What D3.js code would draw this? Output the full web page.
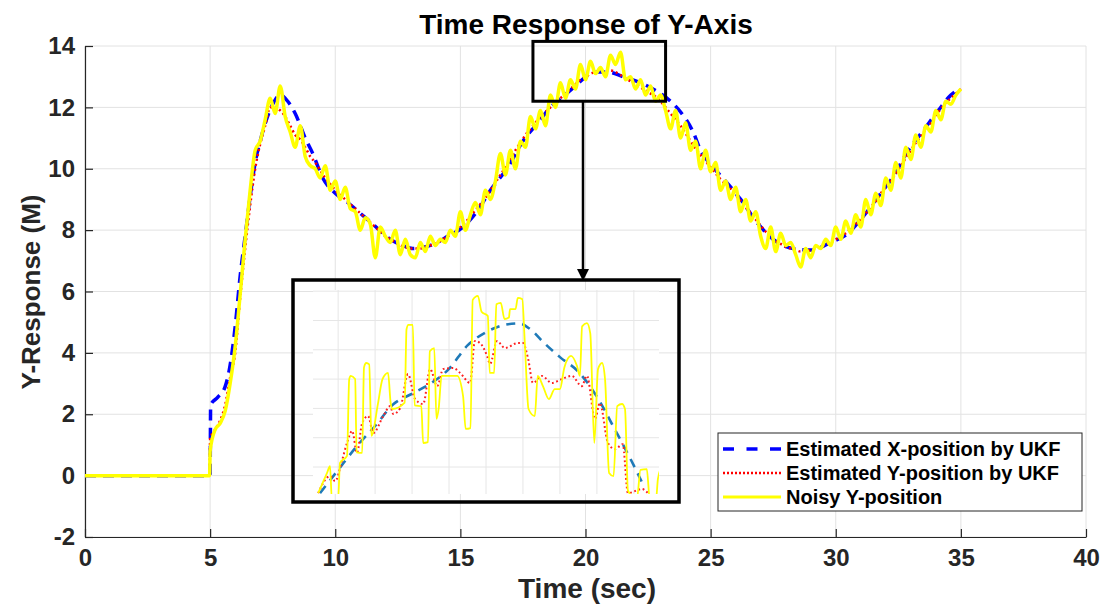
<!DOCTYPE html>
<html>
<head>
<meta charset="utf-8">
<script src="https://cdn.jsdelivr.net/npm/d3@7"></script>
<style>
    body { margin: 0; background: #fff; }
    svg { font-family: "Liberation Sans", Arial, sans-serif; font-weight: bold; }
</style>
</head>
<body>
<svg id="chart"></svg>
<script>
// Time Response of Y-Axis (UKF estimates vs noisy measurement)

const xTicks = [0, 5, 10, 15, 20, 25, 30, 35, 40];
const yTicks = [-2, 0, 2, 4, 6, 8, 10, 12, 14];
const seriesNames = ["Estimated X-position by UKF", "Estimated Y-position by UKF", "Noisy Y-position"];

// flat part before the manoeuvre starts
const flatT = [0, 4.98];
const flatY = [0, 0];

// smooth estimate (blue dashed)
const blueT = [0, 5.0, 5.02, 5.3, 5.6, 5.8, 6.0, 6.2, 6.4, 6.6, 6.8, 7.0, 7.25, 7.5, 7.8, 8.1, 8.4, 8.8, 9.1, 9.5,
    10.0, 10.5, 11.0, 11.5, 12.2, 12.7, 13.1, 13.8, 14.5, 15.1, 15.7, 16.2, 16.9, 17.5, 18.1, 18.6, 19.1, 19.6, 20.1, 20.5,
    20.9, 21.5, 22.2, 22.9, 23.4, 23.8, 24.3, 24.6, 25.1, 25.7, 26.2, 26.9, 27.5, 28.3, 29.0, 29.8, 30.5, 31.0, 31.8, 32.3,
    32.9, 33.5, 34.1, 34.6, 34.75];
const blueY = [0, 0, 2.3, 2.55, 2.9, 3.6, 4.85, 6.5, 7.8, 9.1, 10.2, 10.9, 11.6, 12.1, 12.4, 12.2, 11.8, 11.0, 10.5, 9.7,
    9.2, 8.9, 8.55, 8.2, 7.7, 7.5, 7.4, 7.5, 7.8, 8.1, 8.65, 9.3, 10.05, 10.9, 11.5, 12.0, 12.35, 12.7, 13.05, 13.15,
    13.15, 13.0, 12.8, 12.5, 12.2, 11.85, 11.2, 10.6, 10.05, 9.5, 9.0, 8.2, 7.7, 7.4, 7.35, 7.6, 7.9, 8.35, 9.2, 9.75,
    10.6, 11.25, 11.9, 12.4, 12.5];

// sampled series from t = 5 s every 0.2 s
const sampleStart = 5;
const sampleStep = 0.2;
const redY = [
    1.2, 1.5, 1.8, 2.3, 3.2, 4.0, 5.8, 7.4, 8.8, 10.0,
    10.8, 11.4, 12.0, 12.0, 11.9, 11.7, 11.4, 11.1, 10.95, 10.7,
    10.4, 10.2, 9.95, 9.7, 9.5, 9.3, 9.15, 9.0, 8.85, 8.7,
    8.55, 8.4, 8.25, 8.1, 7.95, 7.8, 7.7, 7.6, 7.5, 7.45,
    7.4, 7.4, 7.4, 7.45, 7.5, 7.55, 7.65, 7.75, 7.85, 7.95,
    8.1, 8.25, 8.45, 8.65, 8.85, 9.05, 9.3, 9.55, 9.8, 10.05,
    10.3, 10.6, 10.85, 11.1, 11.3, 11.5, 11.7, 11.85, 12.0, 12.15,
    12.3, 12.45, 12.6, 12.75, 12.9, 13.0, 13.1, 13.15, 13.2, 13.2,
    13.2, 13.15, 13.05, 12.95, 12.85, 12.75, 12.65, 12.55, 12.45, 12.35,
    12.2, 12.0, 11.8, 11.6, 11.4, 11.15, 10.9, 10.65, 10.45, 10.25,
    10.05, 9.85, 9.65, 9.5, 9.35, 9.15, 8.95, 8.75, 8.55, 8.35,
    8.15, 7.95, 7.8, 7.65, 7.55, 7.45, 7.4, 7.35, 7.3, 7.3,
    7.35, 7.4, 7.45, 7.55, 7.6, 7.7, 7.8, 7.9, 8.05, 8.2,
    8.35, 8.55, 8.75, 8.95, 9.2, 9.4, 9.6, 9.85, 10.1, 10.35,
    10.6, 10.85, 11.05, 11.3, 11.5, 11.75, 11.95, 12.15, 12.3, 12.45,
    12.6];
const noisyY = [
    0.8, 1.5, 1.7, 2.1, 3.0, 4.2, 5.9, 7.7, 9.3, 10.6,
    10.9, 11.6, 12.3, 11.8, 12.7, 11.7, 11.2, 10.7, 11.4, 10.4,
    10.1, 10.0, 9.7, 10.1, 9.3, 9.6, 9.0, 9.4, 8.7, 8.6,
    8.0, 8.4, 8.2, 7.1, 8.1, 7.8, 7.6, 8.0, 7.2, 7.7,
    7.2, 7.1, 7.6, 7.3, 7.8, 7.5, 7.7, 7.6, 8.0, 7.8,
    8.6, 8.0, 8.5, 8.9, 8.5, 9.3, 9.0, 9.6, 10.5, 9.8,
    10.6, 10.0, 10.9, 10.7, 11.7, 11.3, 11.9, 11.4, 12.4, 12.0,
    12.8, 12.3, 12.9, 12.6, 13.4, 12.9, 13.5, 13.1, 13.3, 13.0,
    13.7, 13.4, 13.8, 12.9, 13.0, 12.6, 12.9, 12.4, 12.7, 12.2,
    12.4, 11.9, 11.3, 11.9, 11.0, 11.5, 10.6, 10.9, 10.0, 10.6,
    9.9, 10.2, 9.3, 9.6, 9.0, 9.4, 8.6, 9.0, 8.3, 8.6,
    7.8, 7.4, 8.1, 7.3, 7.9, 7.5, 7.6, 7.2, 6.8, 7.4,
    7.1, 7.5, 7.4, 7.7, 7.5, 8.1, 7.7, 8.3, 7.9, 8.5,
    8.1, 9.0, 8.5, 9.2, 8.8, 9.7, 9.3, 10.2, 9.7, 10.7,
    10.3, 11.1, 10.7, 11.4, 11.2, 11.9, 11.6, 12.2, 12.1, 12.4,
    12.6];

// zoomed region marked on the main plot: [t0, t1, y0, y1]
const zoomBox = [17.9, 23.2, 12.2, 14.15];
const arrowT = 19.9;

// inset (magnified view), in its own grid units
const insetXTicks = [0, 1, 2, 3, 4, 5, 6, 7, 8];
const insetYTicks = [0, 1, 2, 3, 4, 5, 6];
const insetBlueU = [-0.49, 0.0, 0.5, 1.0, 1.5, 2.0, 2.5, 3.0, 3.5, 4.0, 4.5, 4.9, 5.2, 5.6, 6.0, 6.5, 7.0, 7.5, 8.0, 8.25];
const insetBlueV = [-0.89, -0.1, 0.7, 1.4, 2.15, 2.5, 2.85, 3.35, 4.15, 4.6, 4.85, 4.9, 4.7, 4.2, 3.75, 3.25, 2.4, 1.25, 0.05, -0.6];
const insetRedU = [-0.54, -0.22, -0.08, 0.1, 0.24, 0.38, 0.51, 0.65, 0.81, 0.95, 1.22, 1.41, 1.49, 1.68, 1.89, 2.08, 2.3, 2.49,
    2.68, 2.84, 3.11, 3.3, 3.57, 3.7, 3.84, 4.03, 4.11, 4.3, 4.51, 4.86, 5.0, 5.14, 5.27, 5.51, 5.78, 6.05, 6.32, 6.59, 6.73,
    6.95, 7.08, 7.3, 7.49, 7.7, 7.84, 8.22, 8.38];
const insetRedV = [-0.89, -0.31, -0.48, 0.2, 0.82, 1.23, 0.48, 1.5, 1.74, 1.16, 1.74, 2.08, 1.81, 2.01, 3.17, 2.32, 2.15, 3.34,
    2.76, 3.34, 3.38, 3.21, 2.87, 4.3, 4.23, 3.79, 3.52, 4.3, 4.06, 4.23, 4.23, 3.69, 2.87, 3.11, 2.87, 3.0, 3.11, 2.76, 3.11,
    1.64, 2.18, 0.82, 0.61, 0.78, -0.89, -0.75, -0.89];
const insetNoisyU = [-0.54, -0.3, -0.22, -0.17, 0.0, 0.05, 0.24, 0.3, 0.34, 0.46, 0.5, 0.65, 0.7, 0.76, 0.84, 0.9, 1.08, 1.2,
    1.35, 1.42, 1.46, 1.8, 1.85, 1.9, 2.02, 2.07, 2.25, 2.3, 2.43, 2.48, 2.6, 2.66, 2.72, 2.8, 3.22, 3.38, 3.45, 3.58, 3.64,
    3.78, 3.88, 4.05, 4.1, 4.22, 4.28, 4.4, 4.5, 4.62, 4.65, 4.8, 4.86, 4.98, 5.05, 5.15, 5.32, 5.4, 5.54, 5.7, 5.86, 6.0,
    6.12, 6.3, 6.46, 6.54, 6.6, 6.73, 6.82, 6.93, 7.03, 7.14, 7.22, 7.33, 7.45, 7.55, 7.68, 7.76, 7.84, 8.08, 8.18, 8.35,
    8.43, 8.6, 8.65, 8.75];
const insetNoisyV = [-0.89, -0.2, 0.03, -1.1, -1.1, 0.14, 0.38, 3.0, 3.11, 3.0, 0.5, 0.48, 3.4, 3.55, 3.5, 1.06, 2.18, 3.0,
    3.21, 2.2, 1.98, 2.2, 4.7, 4.85, 4.85, 2.1, 2.08, 0.82, 0.85, 3.95, 4.06, 1.64, 2.0, 3.11, 3.11, 2.42, 1.3, 1.33, 5.7,
    5.84, 5.3, 5.15, 3.21, 3.21, 5.55, 5.6, 5.05, 5.1, 5.39, 5.39, 5.77, 5.73, 4.23, 1.98, 1.74, 3.11, 2.76, 2.32, 2.66, 2.66,
    3.4, 3.79, 3.45, 3.11, 4.8, 4.91, 4.57, 0.82, 3.34, 3.55, 3.0, -0.2, -0.31, 2.08, 2.15, 1.98, -0.8, -1.1, -0.1, -0.07,
    -1.1, -1.1, -0.41, 0.0];

var dimensions = {
    width: 1105,
    height: 608,
    margin: { top: 46, bottom: 71, left: 85, right: 19 }
};

var svg = d3.select("#chart")
    .attr("width", dimensions.width)
    .attr("height", dimensions.height);

var xScale = d3.scaleLinear()
    .domain([0, 40])
    .range([dimensions.margin.left, dimensions.width - dimensions.margin.right]);

var yScale = d3.scaleLinear()
    .domain([-2, 14])
    .range([dimensions.height - dimensions.margin.bottom, dimensions.margin.top]);

var pairs = (ts, vs) => ts.map((t, i) => [t, vs[i]]);
var sampleT = noisyY.map((d, i) => sampleStart + i * sampleStep);

var blueData = pairs(blueT, blueY);
var redData = pairs(flatT, flatY).concat(pairs(sampleT, redY));
var noisyData = pairs(flatT, flatY).concat(pairs(sampleT, noisyY));

var gridColor = "#e2e2e2";
var axisColor = "#262626";

// grid
svg.append("g").selectAll("line")
    .data(xTicks)
    .enter()
    .append("line")
    .attr("x1", d => xScale(d)).attr("x2", d => xScale(d))
    .attr("y1", yScale(-2)).attr("y2", yScale(14))
    .attr("stroke", gridColor);

svg.append("g").selectAll("line")
    .data(yTicks)
    .enter()
    .append("line")
    .attr("x1", xScale(0)).attr("x2", xScale(40))
    .attr("y1", d => yScale(d)).attr("y2", d => yScale(d))
    .attr("stroke", gridColor);

// axes (ticks point inward, plain hyphen for negatives)
var xAxis = svg.append("g")
    .attr("transform", `translate(0,${yScale(-2)})`)
    .call(d3.axisBottom(xScale).tickValues(xTicks).tickFormat(d => String(d))
        .tickSizeInner(-8).tickSizeOuter(0).tickPadding(12));

var yAxis = svg.append("g")
    .attr("transform", `translate(${xScale(0)},0)`)
    .call(d3.axisLeft(yScale).tickValues(yTicks).tickFormat(d => String(d))
        .tickSizeInner(-8).tickSizeOuter(0).tickPadding(10));

[xAxis, yAxis].forEach(ax => {
    ax.select(".domain").attr("stroke", axisColor).attr("stroke-width", 1.2);
    ax.selectAll(".tick line").attr("stroke", axisColor).attr("stroke-width", 1.2);
    ax.selectAll(".tick text")
        .attr("fill", axisColor)
        .style("font-family", "'Liberation Sans', Arial, sans-serif")
        .style("font-weight", "bold")
        .style("font-size", "24px");
});

// title and labels
svg.append("text")
    .attr("x", 586)
    .attr("y", 34)
    .attr("text-anchor", "middle")
    .style("font-size", "28px")
    .attr("fill", "#000")
    .text("Time Response of Y-Axis");

svg.append("text")
    .attr("x", 587)
    .attr("y", 598)
    .attr("text-anchor", "middle")
    .style("font-size", "28px")
    .attr("fill", axisColor)
    .text("Time (sec)");

svg.append("text")
    .attr("transform", "translate(40,292) rotate(-90)")
    .attr("text-anchor", "middle")
    .style("font-size", "26px")
    .attr("fill", axisColor)
    .text("Y-Response (M)");

// curves
var line = d3.line()
    .x(d => xScale(d[0]))
    .y(d => yScale(d[1]))
    .curve(d3.curveMonotoneX);

svg.append("path")
    .attr("d", line(blueData))
    .attr("fill", "none")
    .attr("stroke", "#0000ff")
    .attr("stroke-width", 3.5)
    .attr("stroke-dasharray", "11,7");

svg.append("path")
    .attr("d", line(redData))
    .attr("fill", "none")
    .attr("stroke", "#ff0000")
    .attr("stroke-width", 2.5)
    .attr("stroke-dasharray", "2,3");

svg.append("path")
    .attr("d", line(noisyData))
    .attr("fill", "none")
    .attr("stroke", "#ffff00")
    .attr("stroke-width", 3.5)
    .attr("stroke-linejoin", "round");

// zoom marker box and arrow
svg.append("rect")
    .attr("x", xScale(zoomBox[0]))
    .attr("y", yScale(zoomBox[3]))
    .attr("width", xScale(zoomBox[1]) - xScale(zoomBox[0]))
    .attr("height", yScale(zoomBox[2]) - yScale(zoomBox[3]))
    .attr("fill", "none")
    .attr("stroke", "#000")
    .attr("stroke-width", 3);

var inset = { x0: 293, y0: 280, x1: 679, y1: 502, ix0: 313, iy0: 290, ix1: 659, iy1: 494 };

svg.append("line")
    .attr("x1", xScale(arrowT)).attr("x2", xScale(arrowT))
    .attr("y1", yScale(zoomBox[2])).attr("y2", inset.y0 - 8)
    .attr("stroke", "#000")
    .attr("stroke-width", 2.5);

svg.append("path")
    .attr("d", `M${xScale(arrowT) - 6},${inset.y0 - 11} L${xScale(arrowT) + 6},${inset.y0 - 11} L${xScale(arrowT)},${inset.y0 + 1} Z`)
    .attr("fill", "#000");

// inset
var ixScale = d3.scaleLinear().domain([-0.68, 8.68]).range([inset.ix0, inset.ix1]);
var iyScale = d3.scaleLinear().domain([-0.92, 6.04]).range([inset.iy1, inset.iy0]);

svg.append("defs").append("clipPath")
    .attr("id", "inset-clip")
    .append("rect")
    .attr("x", inset.ix0).attr("y", inset.iy0)
    .attr("width", inset.ix1 - inset.ix0).attr("height", inset.iy1 - inset.iy0);

svg.append("rect")
    .attr("x", inset.ix0).attr("y", inset.iy0)
    .attr("width", inset.ix1 - inset.ix0).attr("height", inset.iy1 - inset.iy0)
    .attr("fill", "#fff");

var insetG = svg.append("g").attr("clip-path", "url(#inset-clip)");

insetG.selectAll(".ivgrid")
    .data(insetXTicks)
    .enter()
    .append("line")
    .attr("x1", d => ixScale(d)).attr("x2", d => ixScale(d))
    .attr("y1", inset.iy0).attr("y2", inset.iy1)
    .attr("stroke", "#e6e6e6");

insetG.selectAll(".ihgrid")
    .data(insetYTicks)
    .enter()
    .append("line")
    .attr("x1", inset.ix0).attr("x2", inset.ix1)
    .attr("y1", d => iyScale(d)).attr("y2", d => iyScale(d))
    .attr("stroke", "#e6e6e6");

var insetLine = d3.line()
    .x(d => ixScale(d[0]))
    .y(d => iyScale(d[1]))
    .curve(d3.curveMonotoneX);

insetG.append("path")
    .attr("d", insetLine(pairs(insetBlueU, insetBlueV)))
    .attr("fill", "none")
    .attr("stroke", "#1f7ab8")
    .attr("stroke-width", 2.6)
    .attr("stroke-dasharray", "9,7");

insetG.append("path")
    .attr("d", insetLine(pairs(insetRedU, insetRedV)))
    .attr("fill", "none")
    .attr("stroke", "#ff2020")
    .attr("stroke-width", 2)
    .attr("stroke-dasharray", "1.8,2.6");

insetG.append("path")
    .attr("d", insetLine(pairs(insetNoisyU, insetNoisyV)))
    .attr("fill", "none")
    .attr("stroke", "#ffff00")
    .attr("stroke-width", 1.8);

svg.append("rect")
    .attr("x", inset.x0).attr("y", inset.y0)
    .attr("width", inset.x1 - inset.x0).attr("height", inset.y1 - inset.y0)
    .attr("fill", "none")
    .attr("stroke", "#000")
    .attr("stroke-width", 3.5);

// legend
var legendStyles = [
    { color: "#0000ff", width: 3.5, dash: "11,12.5" },
    { color: "#ff0000", width: 2.5, dash: "2,2" },
    { color: "#ffff00", width: 3, dash: null }
];

svg.append("rect")
    .attr("x", 718).attr("y", 433)
    .attr("width", 364).attr("height", 78)
    .attr("fill", "#fff")
    .attr("stroke", axisColor)
    .attr("stroke-width", 1);

var legend = svg.selectAll(".legend")
    .data(seriesNames)
    .enter()
    .append("g")
    .attr("class", "legend")
    .attr("transform", (d, i) => `translate(0,${449 + i * 24})`);

legend.append("line")
    .attr("x1", 723).attr("x2", 781)
    .attr("stroke", (d, i) => legendStyles[i].color)
    .attr("stroke-width", (d, i) => legendStyles[i].width)
    .attr("stroke-dasharray", (d, i) => legendStyles[i].dash);

legend.append("text")
    .attr("x", 786)
    .attr("y", 7)
    .style("font-size", "20px")
    .attr("fill", "#000")
    .text(d => d);
</script>
</body>
</html>
